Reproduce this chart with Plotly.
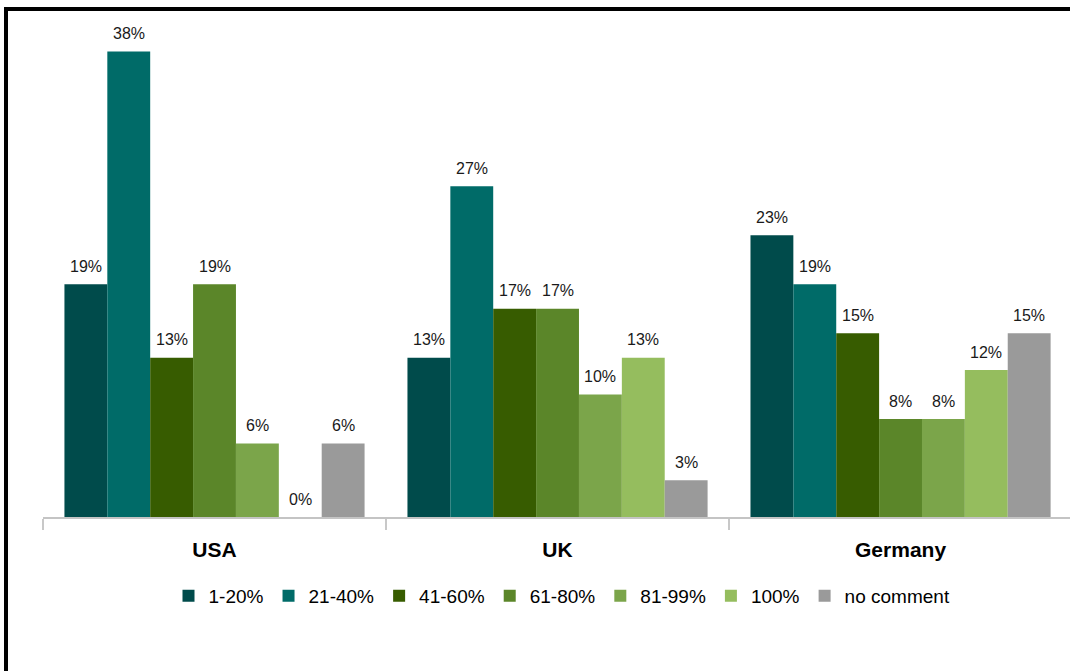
import plotly.graph_objects as go

# Survey responses by country, share of respondents per band (%)
countries = ["USA", "UK", "Germany"]
bands = ["1-20%", "21-40%", "41-60%", "61-80%", "81-99%", "100%", "no comment"]
share_1_20 = [19, 13, 23]
share_21_40 = [38, 27, 19]
share_41_60 = [13, 17, 15]
share_61_80 = [19, 17, 8]
share_81_99 = [6, 10, 8]
share_100 = [0, 13, 12]
share_no_comment = [6, 3, 15]
series = [share_1_20, share_21_40, share_41_60, share_61_80,
          share_81_99, share_100, share_no_comment]

colors = ["#004B4B", "#006B68", "#375C00", "#5B8629",
          "#7BA54A", "#95BD5E", "#9A9A9A"]

FONT = "Liberation Sans, Arial, sans-serif"

# Page geometry
W, H = 1070, 671
ML, MR, MT, MB = 43, 0, 27, 154
plot_w = W - ML - MR
plot_h = H - MT - MB
X_RANGE = [-0.5, 2.494]
Y_RANGE = [0, 40]
BARGAP = 0.125

cat_px = plot_w / (X_RANGE[1] - X_RANGE[0])
bar_px = cat_px * (1 - BARGAP) / len(bands)


def xp(px):
    return (px - ML) / plot_w


def yp(py):
    return (H - MB - py) / plot_h


fig = go.Figure()
for i, (band, vals, color) in enumerate(zip(bands, series, colors)):
    fig.add_trace(go.Bar(
        name=band, x=countries, y=vals,
        marker=dict(color=color, line=dict(width=0)),
        hoverinfo="skip",
    ))
    # value labels above each bar
    for c, v in zip(countries, vals):
        fig.add_annotation(
            x=c, y=v, text=f"{v}%", showarrow=False,
            xref="x", yref="y",
            xshift=(i - (len(bands) - 1) / 2) * bar_px,
            yshift=18, yanchor="middle", xanchor="center",
            font=dict(family=FONT, size=16, color="#1A1A1A"),
        )

# frame lines along the left and top edges
fig.add_shape(type="line", xref="paper", yref="paper",
              x0=xp(6), x1=xp(6), y0=yp(7), y1=yp(H + 5),
              line=dict(color="black", width=4))
fig.add_shape(type="line", xref="paper", yref="paper",
              x0=xp(4), x1=xp(W + 5), y0=yp(9), y1=yp(9),
              line=dict(color="black", width=4))

fig.update_layout(
    width=W, height=H,
    margin=dict(l=ML, r=MR, t=MT, b=MB, pad=0),
    paper_bgcolor="white", plot_bgcolor="white",
    barmode="group", bargap=BARGAP, bargroupgap=0,
    font=dict(family=FONT, color="black"),
    showlegend=True,
    legend=dict(
        orientation="h", x=xp(562), xanchor="center",
        y=yp(596), yanchor="middle",
        font=dict(family=FONT, size=19, color="black"),
        traceorder="normal", bgcolor="rgba(0,0,0,0)",
    ),
    xaxis=dict(
        type="category", range=X_RANGE,
        showline=True, linecolor="#C4C4C4", linewidth=1.5,
        ticks="outside", tickson="boundaries", ticklen=11,
        tickwidth=2, tickcolor="#C8C8C8", ticklabelstandoff=13,
        tickfont=dict(family=FONT, size=21, color="black", weight="bold"),
        showgrid=False, zeroline=False, layer="below traces",
        fixedrange=True,
    ),
    yaxis=dict(
        range=Y_RANGE, visible=False, showgrid=False, zeroline=False,
        fixedrange=True,
    ),
)

fig.write_html("out.html")
